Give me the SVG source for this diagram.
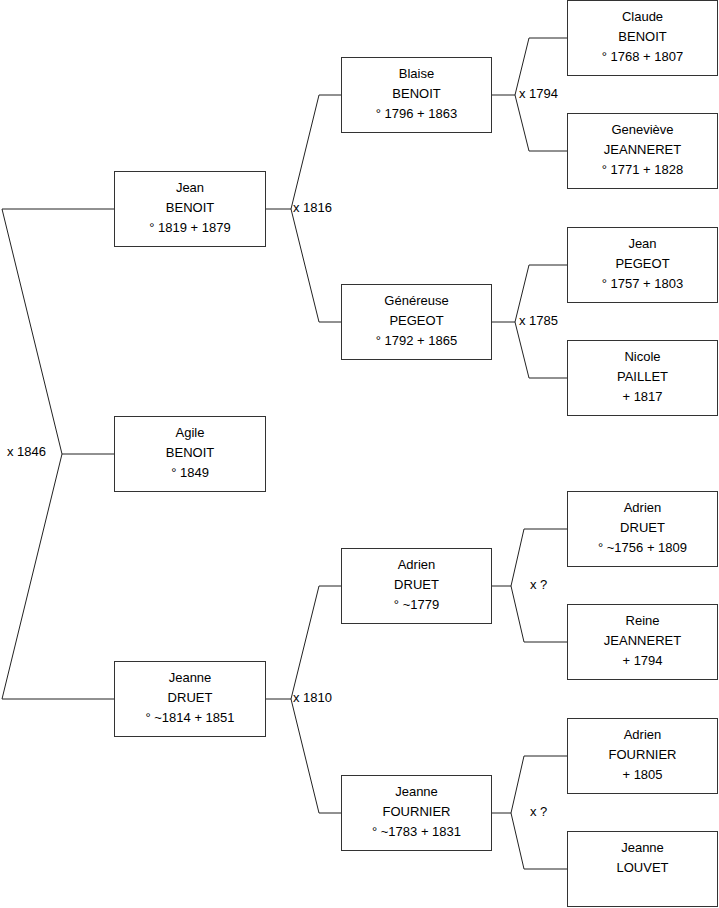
<svg xmlns="http://www.w3.org/2000/svg" width="719" height="908" viewBox="0 0 719 908">
<style>
.box{fill:#fff;stroke:#333;stroke-width:1}
.ln{fill:none;stroke:#222;stroke-width:1}
text{font-family:"Liberation Sans",Arial,sans-serif;font-size:13px;fill:#000}
.c{text-anchor:middle}
</style>
<rect width="719" height="908" fill="#fff"/>
<g id="connectors">
<path class="ln" d="M114.5 209H2L62 454L2 699H114.5M62 454H114.5"/>
<path class="ln" d="M265.5 209H291M341.5 95H319L291 209L319 322H341.5"/>
<path class="ln" d="M265.5 699H291M341.5 586H319L291 699L319 813H341.5"/>
<path class="ln" d="M491.5 95H515M567.5 38H529L515 95L529 151H567.5"/>
<path class="ln" d="M491.5 322H515M567.5 265H529L515 322L529 378H567.5"/>
<path class="ln" d="M491.5 586H511M567.5 529H524L511 586L524 642H567.5"/>
<path class="ln" d="M491.5 813H511M567.5 756H524L511 813L524 869H567.5"/>
<text x="7" y="456">x 1846</text>
<text x="293" y="212">x 1816</text>
<text x="293" y="702">x 1810</text>
<text x="519" y="98">x 1794</text>
<text x="519" y="325">x 1785</text>
<text x="530" y="589">x ?</text>
<text x="530" y="816">x ?</text>
</g>
<g id="jean-benoit"><rect class="box" x="114.5" y="171.5" width="151" height="75"/><text class="c" x="190" y="191.5">Jean</text><text class="c" x="190" y="211.5">BENOIT</text><text class="c" x="190" y="231.5">° 1819 + 1879</text></g>
<g id="agile-benoit"><rect class="box" x="114.5" y="416.5" width="151" height="75"/><text class="c" x="190" y="436.5">Agile</text><text class="c" x="190" y="456.5">BENOIT</text><text class="c" x="190" y="476.5">° 1849</text></g>
<g id="jeanne-druet"><rect class="box" x="114.5" y="661.5" width="151" height="75"/><text class="c" x="190" y="681.5">Jeanne</text><text class="c" x="190" y="701.5">DRUET</text><text class="c" x="190" y="721.5">° ~1814 + 1851</text></g>
<g id="blaise-benoit"><rect class="box" x="341.5" y="57.5" width="150" height="75"/><text class="c" x="416.5" y="77.5">Blaise</text><text class="c" x="416.5" y="97.5">BENOIT</text><text class="c" x="416.5" y="117.5">° 1796 + 1863</text></g>
<g id="genereuse-pegeot"><rect class="box" x="341.5" y="284.5" width="150" height="75"/><text class="c" x="416.5" y="304.5">Généreuse</text><text class="c" x="416.5" y="324.5">PEGEOT</text><text class="c" x="416.5" y="344.5">° 1792 + 1865</text></g>
<g id="adrien-druet-1779"><rect class="box" x="341.5" y="548.5" width="150" height="75"/><text class="c" x="416.5" y="568.5">Adrien</text><text class="c" x="416.5" y="588.5">DRUET</text><text class="c" x="416.5" y="608.5">° ~1779</text></g>
<g id="jeanne-fournier"><rect class="box" x="341.5" y="775.5" width="150" height="75"/><text class="c" x="416.5" y="795.5">Jeanne</text><text class="c" x="416.5" y="815.5">FOURNIER</text><text class="c" x="416.5" y="835.5">° ~1783 + 1831</text></g>
<g id="claude-benoit"><rect class="box" x="567.5" y="0.5" width="150" height="75"/><text class="c" x="642.5" y="20.5">Claude</text><text class="c" x="642.5" y="40.5">BENOIT</text><text class="c" x="642.5" y="60.5">° 1768 + 1807</text></g>
<g id="genevieve-jeanneret"><rect class="box" x="567.5" y="113.5" width="150" height="75"/><text class="c" x="642.5" y="133.5">Geneviève</text><text class="c" x="642.5" y="153.5">JEANNERET</text><text class="c" x="642.5" y="173.5">° 1771 + 1828</text></g>
<g id="jean-pegeot"><rect class="box" x="567.5" y="227.5" width="150" height="75"/><text class="c" x="642.5" y="247.5">Jean</text><text class="c" x="642.5" y="267.5">PEGEOT</text><text class="c" x="642.5" y="287.5">° 1757 + 1803</text></g>
<g id="nicole-paillet"><rect class="box" x="567.5" y="340.5" width="150" height="75"/><text class="c" x="642.5" y="360.5">Nicole</text><text class="c" x="642.5" y="380.5">PAILLET</text><text class="c" x="642.5" y="400.5">+ 1817</text></g>
<g id="adrien-druet-1756"><rect class="box" x="567.5" y="491.5" width="150" height="75"/><text class="c" x="642.5" y="511.5">Adrien</text><text class="c" x="642.5" y="531.5">DRUET</text><text class="c" x="642.5" y="551.5">° ~1756 + 1809</text></g>
<g id="reine-jeanneret"><rect class="box" x="567.5" y="604.5" width="150" height="75"/><text class="c" x="642.5" y="624.5">Reine</text><text class="c" x="642.5" y="644.5">JEANNERET</text><text class="c" x="642.5" y="664.5">+ 1794</text></g>
<g id="adrien-fournier"><rect class="box" x="567.5" y="718.5" width="150" height="75"/><text class="c" x="642.5" y="738.5">Adrien</text><text class="c" x="642.5" y="758.5">FOURNIER</text><text class="c" x="642.5" y="778.5">+ 1805</text></g>
<g id="jeanne-louvet"><rect class="box" x="567.5" y="831.5" width="150" height="75"/><text class="c" x="642.5" y="851.5">Jeanne</text><text class="c" x="642.5" y="871.5">LOUVET</text></g>
</svg>
